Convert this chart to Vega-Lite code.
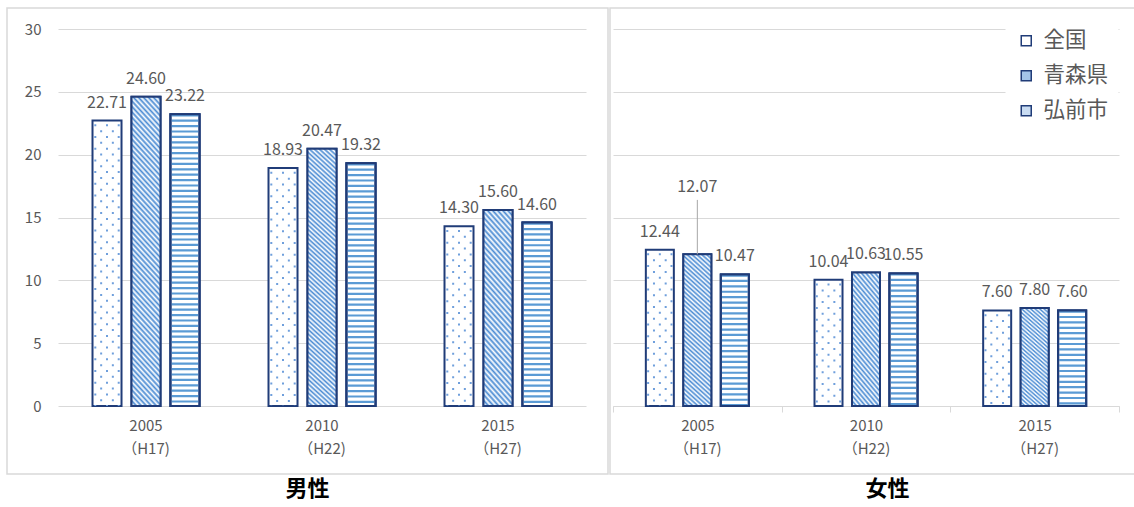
{
"$schema": "https://vega.github.io/schema/vega-lite/v6.json",
"background": "#ffffff",
"padding": {"left": 6, "top": 7, "right": 0, "bottom": 0},
"spacing": 0,
"params": [
{"name": "hatchTall", "value": {"gradient": "linear", "x1": 0, "y1": 1, "x2": 0.1118, "y2": -0.091, "stops": [
{"offset":0,"color":"#4a8bd3"},{"offset":0.008,"color":"#fff"},{"offset":0.016,"color":"#4a8bd3"},{"offset":0.024,"color":"#fff"},{"offset":0.032,"color":"#4a8bd3"},{"offset":0.04,"color":"#fff"},{"offset":0.048,"color":"#4a8bd3"},{"offset":0.056,"color":"#fff"},{"offset":0.064,"color":"#4a8bd3"},{"offset":0.072,"color":"#fff"},
{"offset":0.08,"color":"#4a8bd3"},{"offset":0.088,"color":"#fff"},{"offset":0.096,"color":"#4a8bd3"},{"offset":0.104,"color":"#fff"},{"offset":0.112,"color":"#4a8bd3"},{"offset":0.12,"color":"#fff"},{"offset":0.128,"color":"#4a8bd3"},{"offset":0.136,"color":"#fff"},{"offset":0.144,"color":"#4a8bd3"},{"offset":0.152,"color":"#fff"},
{"offset":0.16,"color":"#4a8bd3"},{"offset":0.168,"color":"#fff"},{"offset":0.176,"color":"#4a8bd3"},{"offset":0.184,"color":"#fff"},{"offset":0.192,"color":"#4a8bd3"},{"offset":0.2,"color":"#fff"},{"offset":0.208,"color":"#4a8bd3"},{"offset":0.216,"color":"#fff"},{"offset":0.224,"color":"#4a8bd3"},{"offset":0.232,"color":"#fff"},
{"offset":0.24,"color":"#4a8bd3"},{"offset":0.248,"color":"#fff"},{"offset":0.256,"color":"#4a8bd3"},{"offset":0.264,"color":"#fff"},{"offset":0.272,"color":"#4a8bd3"},{"offset":0.28,"color":"#fff"},{"offset":0.288,"color":"#4a8bd3"},{"offset":0.296,"color":"#fff"},{"offset":0.304,"color":"#4a8bd3"},{"offset":0.312,"color":"#fff"},
{"offset":0.32,"color":"#4a8bd3"},{"offset":0.328,"color":"#fff"},{"offset":0.336,"color":"#4a8bd3"},{"offset":0.344,"color":"#fff"},{"offset":0.352,"color":"#4a8bd3"},{"offset":0.36,"color":"#fff"},{"offset":0.368,"color":"#4a8bd3"},{"offset":0.376,"color":"#fff"},{"offset":0.384,"color":"#4a8bd3"},{"offset":0.392,"color":"#fff"},
{"offset":0.4,"color":"#4a8bd3"},{"offset":0.408,"color":"#fff"},{"offset":0.416,"color":"#4a8bd3"},{"offset":0.424,"color":"#fff"},{"offset":0.432,"color":"#4a8bd3"},{"offset":0.44,"color":"#fff"},{"offset":0.448,"color":"#4a8bd3"},{"offset":0.456,"color":"#fff"},{"offset":0.464,"color":"#4a8bd3"},{"offset":0.472,"color":"#fff"},
{"offset":0.48,"color":"#4a8bd3"},{"offset":0.488,"color":"#fff"},{"offset":0.496,"color":"#4a8bd3"},{"offset":0.504,"color":"#fff"},{"offset":0.512,"color":"#4a8bd3"},{"offset":0.52,"color":"#fff"},{"offset":0.528,"color":"#4a8bd3"},{"offset":0.536,"color":"#fff"},{"offset":0.544,"color":"#4a8bd3"},{"offset":0.552,"color":"#fff"},
{"offset":0.56,"color":"#4a8bd3"},{"offset":0.568,"color":"#fff"},{"offset":0.576,"color":"#4a8bd3"},{"offset":0.584,"color":"#fff"},{"offset":0.592,"color":"#4a8bd3"},{"offset":0.6,"color":"#fff"},{"offset":0.608,"color":"#4a8bd3"},{"offset":0.616,"color":"#fff"},{"offset":0.624,"color":"#4a8bd3"},{"offset":0.632,"color":"#fff"},
{"offset":0.64,"color":"#4a8bd3"},{"offset":0.648,"color":"#fff"},{"offset":0.656,"color":"#4a8bd3"},{"offset":0.664,"color":"#fff"},{"offset":0.672,"color":"#4a8bd3"},{"offset":0.68,"color":"#fff"},{"offset":0.688,"color":"#4a8bd3"},{"offset":0.696,"color":"#fff"},{"offset":0.704,"color":"#4a8bd3"},{"offset":0.712,"color":"#fff"},
{"offset":0.72,"color":"#4a8bd3"},{"offset":0.728,"color":"#fff"},{"offset":0.736,"color":"#4a8bd3"},{"offset":0.744,"color":"#fff"},{"offset":0.752,"color":"#4a8bd3"},{"offset":0.76,"color":"#fff"},{"offset":0.768,"color":"#4a8bd3"},{"offset":0.776,"color":"#fff"},{"offset":0.784,"color":"#4a8bd3"},{"offset":0.792,"color":"#fff"},
{"offset":0.8,"color":"#4a8bd3"},{"offset":0.808,"color":"#fff"},{"offset":0.816,"color":"#4a8bd3"},{"offset":0.824,"color":"#fff"},{"offset":0.832,"color":"#4a8bd3"},{"offset":0.84,"color":"#fff"},{"offset":0.848,"color":"#4a8bd3"},{"offset":0.856,"color":"#fff"},{"offset":0.864,"color":"#4a8bd3"},{"offset":0.872,"color":"#fff"},
{"offset":0.88,"color":"#4a8bd3"},{"offset":0.888,"color":"#fff"},{"offset":0.896,"color":"#4a8bd3"},{"offset":0.904,"color":"#fff"},{"offset":0.912,"color":"#4a8bd3"},{"offset":0.92,"color":"#fff"},{"offset":0.928,"color":"#4a8bd3"},{"offset":0.936,"color":"#fff"},{"offset":0.944,"color":"#4a8bd3"},{"offset":0.952,"color":"#fff"},
{"offset":0.96,"color":"#4a8bd3"},{"offset":0.968,"color":"#fff"},{"offset":0.976,"color":"#4a8bd3"},{"offset":0.984,"color":"#fff"},{"offset":0.992,"color":"#4a8bd3"},{"offset":1,"color":"#fff"}
]}},
{"name": "hatchMid", "value": {"gradient": "linear", "x1": 0, "y1": 1, "x2": 0.1892, "y2": -0.1351, "stops": [
{"offset":0,"color":"#4a8bd3"},{"offset":0.0125,"color":"#fff"},{"offset":0.025,"color":"#4a8bd3"},{"offset":0.0375,"color":"#fff"},{"offset":0.05,"color":"#4a8bd3"},{"offset":0.0625,"color":"#fff"},{"offset":0.075,"color":"#4a8bd3"},{"offset":0.0875,"color":"#fff"},
{"offset":0.1,"color":"#4a8bd3"},{"offset":0.1125,"color":"#fff"},{"offset":0.125,"color":"#4a8bd3"},{"offset":0.1375,"color":"#fff"},{"offset":0.15,"color":"#4a8bd3"},{"offset":0.1625,"color":"#fff"},{"offset":0.175,"color":"#4a8bd3"},{"offset":0.1875,"color":"#fff"},
{"offset":0.2,"color":"#4a8bd3"},{"offset":0.2125,"color":"#fff"},{"offset":0.225,"color":"#4a8bd3"},{"offset":0.2375,"color":"#fff"},{"offset":0.25,"color":"#4a8bd3"},{"offset":0.2625,"color":"#fff"},{"offset":0.275,"color":"#4a8bd3"},{"offset":0.2875,"color":"#fff"},
{"offset":0.3,"color":"#4a8bd3"},{"offset":0.3125,"color":"#fff"},{"offset":0.325,"color":"#4a8bd3"},{"offset":0.3375,"color":"#fff"},{"offset":0.35,"color":"#4a8bd3"},{"offset":0.3625,"color":"#fff"},{"offset":0.375,"color":"#4a8bd3"},{"offset":0.3875,"color":"#fff"},
{"offset":0.4,"color":"#4a8bd3"},{"offset":0.4125,"color":"#fff"},{"offset":0.425,"color":"#4a8bd3"},{"offset":0.4375,"color":"#fff"},{"offset":0.45,"color":"#4a8bd3"},{"offset":0.4625,"color":"#fff"},{"offset":0.475,"color":"#4a8bd3"},{"offset":0.4875,"color":"#fff"},
{"offset":0.5,"color":"#4a8bd3"},{"offset":0.5125,"color":"#fff"},{"offset":0.525,"color":"#4a8bd3"},{"offset":0.5375,"color":"#fff"},{"offset":0.55,"color":"#4a8bd3"},{"offset":0.5625,"color":"#fff"},{"offset":0.575,"color":"#4a8bd3"},{"offset":0.5875,"color":"#fff"},
{"offset":0.6,"color":"#4a8bd3"},{"offset":0.6125,"color":"#fff"},{"offset":0.625,"color":"#4a8bd3"},{"offset":0.6375,"color":"#fff"},{"offset":0.65,"color":"#4a8bd3"},{"offset":0.6625,"color":"#fff"},{"offset":0.675,"color":"#4a8bd3"},{"offset":0.6875,"color":"#fff"},
{"offset":0.7,"color":"#4a8bd3"},{"offset":0.7125,"color":"#fff"},{"offset":0.725,"color":"#4a8bd3"},{"offset":0.7375,"color":"#fff"},{"offset":0.75,"color":"#4a8bd3"},{"offset":0.7625,"color":"#fff"},{"offset":0.775,"color":"#4a8bd3"},{"offset":0.7875,"color":"#fff"},
{"offset":0.8,"color":"#4a8bd3"},{"offset":0.8125,"color":"#fff"},{"offset":0.825,"color":"#4a8bd3"},{"offset":0.8375,"color":"#fff"},{"offset":0.85,"color":"#4a8bd3"},{"offset":0.8625,"color":"#fff"},{"offset":0.875,"color":"#4a8bd3"},{"offset":0.8875,"color":"#fff"},
{"offset":0.9,"color":"#4a8bd3"},{"offset":0.9125,"color":"#fff"},{"offset":0.925,"color":"#4a8bd3"},{"offset":0.9375,"color":"#fff"},{"offset":0.95,"color":"#4a8bd3"},{"offset":0.9625,"color":"#fff"},{"offset":0.975,"color":"#4a8bd3"},{"offset":0.9875,"color":"#fff"},
{"offset":1,"color":"#4a8bd3"}
]}},
{"name": "hatchShort", "value": {"gradient": "linear", "x1": 0, "y1": 1, "x2": 0.2941, "y2": -0.1765, "stops": [
{"offset":0,"color":"#4a8bd3"},{"offset":0.016,"color":"#fff"},{"offset":0.032,"color":"#4a8bd3"},{"offset":0.048,"color":"#fff"},{"offset":0.064,"color":"#4a8bd3"},{"offset":0.08,"color":"#fff"},{"offset":0.096,"color":"#4a8bd3"},{"offset":0.112,"color":"#fff"},
{"offset":0.128,"color":"#4a8bd3"},{"offset":0.144,"color":"#fff"},{"offset":0.16,"color":"#4a8bd3"},{"offset":0.176,"color":"#fff"},{"offset":0.192,"color":"#4a8bd3"},{"offset":0.208,"color":"#fff"},{"offset":0.224,"color":"#4a8bd3"},{"offset":0.24,"color":"#fff"},
{"offset":0.256,"color":"#4a8bd3"},{"offset":0.272,"color":"#fff"},{"offset":0.288,"color":"#4a8bd3"},{"offset":0.304,"color":"#fff"},{"offset":0.32,"color":"#4a8bd3"},{"offset":0.336,"color":"#fff"},{"offset":0.352,"color":"#4a8bd3"},{"offset":0.368,"color":"#fff"},
{"offset":0.384,"color":"#4a8bd3"},{"offset":0.4,"color":"#fff"},{"offset":0.416,"color":"#4a8bd3"},{"offset":0.432,"color":"#fff"},{"offset":0.448,"color":"#4a8bd3"},{"offset":0.464,"color":"#fff"},{"offset":0.48,"color":"#4a8bd3"},{"offset":0.496,"color":"#fff"},
{"offset":0.512,"color":"#4a8bd3"},{"offset":0.528,"color":"#fff"},{"offset":0.544,"color":"#4a8bd3"},{"offset":0.56,"color":"#fff"},{"offset":0.576,"color":"#4a8bd3"},{"offset":0.592,"color":"#fff"},{"offset":0.608,"color":"#4a8bd3"},{"offset":0.624,"color":"#fff"},
{"offset":0.64,"color":"#4a8bd3"},{"offset":0.656,"color":"#fff"},{"offset":0.672,"color":"#4a8bd3"},{"offset":0.688,"color":"#fff"},{"offset":0.704,"color":"#4a8bd3"},{"offset":0.72,"color":"#fff"},{"offset":0.736,"color":"#4a8bd3"},{"offset":0.752,"color":"#fff"},
{"offset":0.768,"color":"#4a8bd3"},{"offset":0.784,"color":"#fff"},{"offset":0.8,"color":"#4a8bd3"},{"offset":0.816,"color":"#fff"},{"offset":0.832,"color":"#4a8bd3"},{"offset":0.848,"color":"#fff"},{"offset":0.864,"color":"#4a8bd3"},{"offset":0.88,"color":"#fff"},
{"offset":0.896,"color":"#4a8bd3"},{"offset":0.912,"color":"#fff"},{"offset":0.928,"color":"#4a8bd3"},{"offset":0.944,"color":"#fff"},{"offset":0.96,"color":"#4a8bd3"},{"offset":0.976,"color":"#fff"},{"offset":0.992,"color":"#4a8bd3"},{"offset":1,"color":"#fff"}
]}}
],
"datasets": {
"rates": [
{"sex": "男性", "period": "2005|（H17)", "region": "全国", "value": 22.71},
{"sex": "男性", "period": "2005|（H17)", "region": "青森県", "value": 24.60},
{"sex": "男性", "period": "2005|（H17)", "region": "弘前市", "value": 23.22},
{"sex": "男性", "period": "2010|（H22)", "region": "全国", "value": 18.93},
{"sex": "男性", "period": "2010|（H22)", "region": "青森県", "value": 20.47},
{"sex": "男性", "period": "2010|（H22)", "region": "弘前市", "value": 19.32},
{"sex": "男性", "period": "2015|（H27)", "region": "全国", "value": 14.30},
{"sex": "男性", "period": "2015|（H27)", "region": "青森県", "value": 15.60},
{"sex": "男性", "period": "2015|（H27)", "region": "弘前市", "value": 14.60},
{"sex": "女性", "period": "2005|（H17)", "region": "全国", "value": 12.44},
{"sex": "女性", "period": "2005|（H17)", "region": "青森県", "value": 12.07},
{"sex": "女性", "period": "2005|（H17)", "region": "弘前市", "value": 10.47},
{"sex": "女性", "period": "2010|（H22)", "region": "全国", "value": 10.04},
{"sex": "女性", "period": "2010|（H22)", "region": "青森県", "value": 10.63},
{"sex": "女性", "period": "2010|（H22)", "region": "弘前市", "value": 10.55},
{"sex": "女性", "period": "2015|（H27)", "region": "全国", "value": 7.60},
{"sex": "女性", "period": "2015|（H27)", "region": "青森県", "value": 7.80},
{"sex": "女性", "period": "2015|（H27)", "region": "弘前市", "value": 7.60}
]
},
"resolve": {
"scale": {"x": "independent", "y": "independent", "xOffset": "independent", "fill": "independent"},
"legend": {"fill": "independent"}
},
"config": {
"font": "Noto Sans CJK JP",
"view": {"stroke": "#d9d9d9", "strokeWidth": 1.5},
"axis": {"labelFont": "Noto Sans CJK JP", "labelColor": "#595959", "labelFontSize": 15, "gridColor": "#d9d9d9", "gridWidth": 1, "domainColor": "#d9d9d9", "tickColor": "#d9d9d9", "title": null},
"text": {"font": "Noto Sans CJK JP"}
},
"hconcat": [
{
"width": 601,
"height": 466,
"title": {"text": "男性", "orient": "bottom", "anchor": "middle", "fontSize": 22, "fontWeight": "bold", "color": "#000000", "font": "Noto Sans CJK JP", "offset": 5},
"data": {"name": "rates"},
"transform": [{"filter": "datum.sex === '男性'"}],
"encoding": {
"x": {"field": "period", "type": "nominal", "sort": null,
"scale": {"range": [51, 579], "paddingInner": 0, "paddingOuter": 0},
"axis": {"orient": "bottom", "offset": -68, "labelExpr": "split(datum.label, '|')", "labelAngle": 0, "domain": false, "ticks": false, "grid": false, "labelPadding": 12, "labelLineHeight": 23, "labelBaseline": "top"}},
"y": {"field": "value", "type": "quantitative",
"scale": {"domain": [0, 30], "range": [398, 21], "nice": false},
"axis": {"orient": "left", "offset": -51, "values": [0, 5, 10, 15, 20, 25, 30], "grid": true, "domain": false, "ticks": false, "labelPadding": 17}}
},
"layer": [
{"mark": {"type": "bar", "stroke": "#203c78", "strokeWidth": 2},
"encoding": {
"xOffset": {"field": "region", "type": "nominal", "sort": ["全国", "青森県", "弘前市"], "scale": {"domain": ["全国", "青森県", "弘前市"], "paddingInner": 0.256, "paddingOuter": 0.885}},
"fill": {"field": "region", "type": "nominal", "scale": {"domain": ["全国", "青森県", "弘前市"], "range": ["#ffffff", "#a4c5e9", "#c9dcf2"]}, "legend": null}}},
{"transform": [{"filter": "datum.region === '青森県' && datum.value > 17"}],
"mark": {"type": "bar", "fill": {"expr": "hatchTall"}, "stroke": "#203c78", "strokeWidth": 2},
"encoding": {"xOffset": {"field": "region", "type": "nominal", "sort": ["全国", "青森県", "弘前市"]}}},
{"transform": [{"filter": "datum.region === '青森県' && datum.value > 12 && datum.value <= 17"}],
"mark": {"type": "bar", "fill": {"expr": "hatchMid"}, "stroke": "#203c78", "strokeWidth": 2},
"encoding": {"xOffset": {"field": "region", "type": "nominal", "sort": ["全国", "青森県", "弘前市"]}}},
{"transform": [{"filter": "datum.region === '弘前市'"}],
"mark": {"type": "bar", "fill": "#ffffff", "stroke": "#203c78", "strokeWidth": 2},
"encoding": {"xOffset": {"field": "region", "type": "nominal", "sort": ["全国", "青森県", "弘前市"]}}},
{"transform": [{"filter": "datum.region === '弘前市'"}],
"mark": {"type": "rule", "stroke": "#5b9bd5", "strokeWidth": 27, "strokeDash": [2.2, 3.2], "strokeCap": "butt"},
"encoding": {"xOffset": {"field": "region", "type": "nominal", "sort": ["全国", "青森県", "弘前市"]}, "y2": {"datum": 0}}},
{"transform": [{"filter": "datum.region === '弘前市'"}],
"mark": {"type": "bar", "fillOpacity": 0, "stroke": "#203c78", "strokeWidth": 2},
"encoding": {"xOffset": {"field": "region", "type": "nominal", "sort": ["全国", "青森県", "弘前市"]}}},
{"transform": [{"filter": "datum.region === '全国'"}],
"mark": {"type": "rule", "stroke": "#6f9fdc", "strokeWidth": 2, "strokeDash": [2, 9.7], "strokeDashOffset": 8, "strokeCap": "butt", "xOffset": -50.7},
"encoding": {"y2": {"datum": 0}}},
{"transform": [{"filter": "datum.region === '全国'"}],
"mark": {"type": "rule", "stroke": "#6f9fdc", "strokeWidth": 2, "strokeDash": [2, 9.7], "strokeDashOffset": 8, "strokeCap": "butt", "xOffset": -39},
"encoding": {"y2": {"datum": 0}}},
{"transform": [{"filter": "datum.region === '全国'"}],
"mark": {"type": "rule", "stroke": "#6f9fdc", "strokeWidth": 2, "strokeDash": [2, 9.7], "strokeDashOffset": 8, "strokeCap": "butt", "xOffset": -27.3},
"encoding": {"y2": {"datum": 0}}},
{"transform": [{"filter": "datum.region === '全国'"}],
"mark": {"type": "rule", "stroke": "#6f9fdc", "strokeWidth": 2, "strokeDash": [2, 9.7], "strokeDashOffset": 2.15, "strokeCap": "butt", "xOffset": -44.85},
"encoding": {"y2": {"datum": 0}}},
{"transform": [{"filter": "datum.region === '全国'"}],
"mark": {"type": "rule", "stroke": "#6f9fdc", "strokeWidth": 2, "strokeDash": [2, 9.7], "strokeDashOffset": 2.15, "strokeCap": "butt", "xOffset": -33.15},
"encoding": {"y2": {"datum": 0}}},
{"mark": {"type": "text", "baseline": "middle", "dy": -18, "fontSize": 16, "color": "#595959"},
"encoding": {"xOffset": {"field": "region", "type": "nominal", "sort": ["全国", "青森県", "弘前市"]}, "text": {"field": "value", "type": "quantitative", "format": ".2f"}}}
]
},
{
"width": 525,
"height": 466,
"title": {"text": "女性", "orient": "bottom", "anchor": "middle", "fontSize": 22, "fontWeight": "bold", "color": "#000000", "font": "Noto Sans CJK JP", "offset": 5, "dx": 15},
"data": {"name": "rates"},
"transform": [{"filter": "datum.sex === '女性'"}],
"encoding": {
"x": {"field": "period", "type": "nominal", "sort": null,
"scale": {"range": [3, 509], "paddingInner": 0, "paddingOuter": 0},
"axis": {"orient": "bottom", "offset": -68, "labelExpr": "split(datum.label, '|')", "labelAngle": 0, "domain": true, "ticks": true, "tickBand": "extent", "tickSize": 6, "grid": false, "labelPadding": 6, "labelLineHeight": 23, "labelBaseline": "top"}},
"y": {"field": "value", "type": "quantitative",
"scale": {"domain": [0, 30], "range": [398, 21], "nice": false},
"axis": {"orient": "left", "offset": -3, "values": [0, 5, 10, 15, 20, 25, 30], "grid": true, "labels": false, "domain": false, "ticks": false}}
},
"layer": [
{"mark": {"type": "bar", "stroke": "#203c78", "strokeWidth": 2},
"encoding": {
"xOffset": {"field": "region", "type": "nominal", "sort": ["全国", "青森県", "弘前市"], "scale": {"domain": ["全国", "青森県", "弘前市"], "paddingInner": 0.253, "paddingOuter": 0.876}},
"fill": {"field": "region", "type": "nominal", "scale": {"domain": ["全国", "青森県", "弘前市"], "range": ["#ffffff", "#a4c5e9", "#c9dcf2"]},
"legend": {"orient": "none", "legendX": 395.5, "legendY": 12, "title": null, "direction": "vertical", "symbolType": "square", "symbolSize": 100, "symbolStrokeColor": "#203c78", "symbolStrokeWidth": 1.5, "labelFontSize": 21.5, "labelColor": "#595959", "labelFont": "Noto Sans CJK JP", "labelOffset": 6.5, "rowPadding": 12, "padding": 10, "fillColor": "#ffffff"}}}},
{"transform": [{"filter": "datum.region === '青森県' && datum.value > 12 && datum.value <= 17"}],
"mark": {"type": "bar", "fill": {"expr": "hatchMid"}, "stroke": "#203c78", "strokeWidth": 2},
"encoding": {"xOffset": {"field": "region", "type": "nominal", "sort": ["全国", "青森県", "弘前市"]}}},
{"transform": [{"filter": "datum.region === '青森県' && datum.value <= 12"}],
"mark": {"type": "bar", "fill": {"expr": "hatchShort"}, "stroke": "#203c78", "strokeWidth": 2},
"encoding": {"xOffset": {"field": "region", "type": "nominal", "sort": ["全国", "青森県", "弘前市"]}}},
{"transform": [{"filter": "datum.region === '弘前市'"}],
"mark": {"type": "bar", "fill": "#ffffff", "stroke": "#203c78", "strokeWidth": 2},
"encoding": {"xOffset": {"field": "region", "type": "nominal", "sort": ["全国", "青森県", "弘前市"]}}},
{"transform": [{"filter": "datum.region === '弘前市'"}],
"mark": {"type": "rule", "stroke": "#5b9bd5", "strokeWidth": 26, "strokeDash": [2.2, 3.2], "strokeCap": "butt"},
"encoding": {"xOffset": {"field": "region", "type": "nominal", "sort": ["全国", "青森県", "弘前市"]}, "y2": {"datum": 0}}},
{"transform": [{"filter": "datum.region === '弘前市'"}],
"mark": {"type": "bar", "fillOpacity": 0, "stroke": "#203c78", "strokeWidth": 2},
"encoding": {"xOffset": {"field": "region", "type": "nominal", "sort": ["全国", "青森県", "弘前市"]}}},
{"transform": [{"filter": "datum.region === '全国'"}],
"mark": {"type": "rule", "stroke": "#6f9fdc", "strokeWidth": 2, "strokeDash": [2, 9.7], "strokeDashOffset": 8, "strokeCap": "butt", "xOffset": -49.2},
"encoding": {"y2": {"datum": 0}}},
{"transform": [{"filter": "datum.region === '全国'"}],
"mark": {"type": "rule", "stroke": "#6f9fdc", "strokeWidth": 2, "strokeDash": [2, 9.7], "strokeDashOffset": 8, "strokeCap": "butt", "xOffset": -37.5},
"encoding": {"y2": {"datum": 0}}},
{"transform": [{"filter": "datum.region === '全国'"}],
"mark": {"type": "rule", "stroke": "#6f9fdc", "strokeWidth": 2, "strokeDash": [2, 9.7], "strokeDashOffset": 8, "strokeCap": "butt", "xOffset": -25.8},
"encoding": {"y2": {"datum": 0}}},
{"transform": [{"filter": "datum.region === '全国'"}],
"mark": {"type": "rule", "stroke": "#6f9fdc", "strokeWidth": 2, "strokeDash": [2, 9.7], "strokeDashOffset": 2.15, "strokeCap": "butt", "xOffset": -43.35},
"encoding": {"y2": {"datum": 0}}},
{"transform": [{"filter": "datum.region === '全国'"}],
"mark": {"type": "rule", "stroke": "#6f9fdc", "strokeWidth": 2, "strokeDash": [2, 9.7], "strokeDashOffset": 2.15, "strokeCap": "butt", "xOffset": -31.65},
"encoding": {"y2": {"datum": 0}}},
{"transform": [{"filter": "!(datum.region === '青森県' && datum.period === '2005|（H17)')"}],
"mark": {"type": "text", "baseline": "middle", "dy": -18, "fontSize": 16, "color": "#595959"},
"encoding": {"xOffset": {"field": "region", "type": "nominal", "sort": ["全国", "青森県", "弘前市"]}, "text": {"field": "value", "type": "quantitative", "format": ".2f"}}},
{"transform": [{"filter": "datum.region === '青森県' && datum.period === '2005|（H17)'"}],
"mark": {"type": "rule", "stroke": "#a6a6a6", "strokeWidth": 1},
"encoding": {"xOffset": {"field": "region", "type": "nominal", "sort": ["全国", "青森県", "弘前市"]}, "y2": {"datum": 16.4}}},
{"transform": [{"filter": "datum.region === '青森県' && datum.period === '2005|（H17)'"}],
"mark": {"type": "text", "baseline": "middle", "dy": -67, "fontSize": 16, "color": "#595959"},
"encoding": {"xOffset": {"field": "region", "type": "nominal", "sort": ["全国", "青森県", "弘前市"]}, "text": {"field": "value", "type": "quantitative", "format": ".2f"}}}
]
}
]
}
